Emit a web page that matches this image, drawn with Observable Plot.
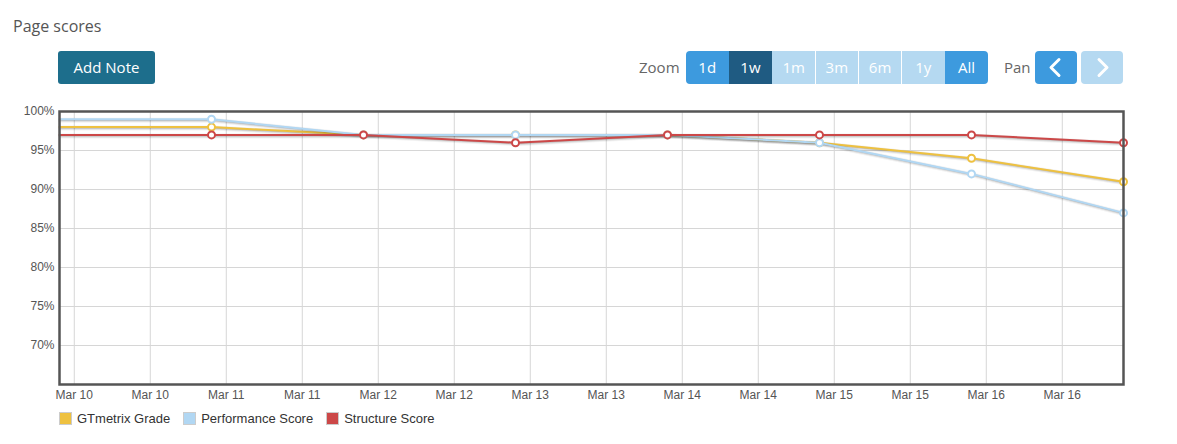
<!DOCTYPE html>
<html>
<head>
<meta charset="utf-8">
<script src="https://cdn.jsdelivr.net/npm/d3@7"></script>
<script src="https://cdn.jsdelivr.net/npm/@observablehq/plot@0.6"></script>
<style>
  html, body { margin: 0; padding: 0; background: #fff; }
  #wrap { position: relative; width: 1177px; height: 444px; overflow: hidden; font-family: "Open Sans", sans-serif; }
  #title { position: absolute; left: 13px; top: 15px; font-size: 16px; color: #555; }
  .btn { position: absolute; top: 51px; height: 33px; line-height: 33px; text-align: center; color: #fff; font-size: 15px; box-sizing: border-box; }
  .lbl { position: absolute; top: 51px; height: 33px; line-height: 33px; font-size: 15px; color: #666; }
  #chart { position: absolute; left: 0; top: 100px; }
  #legend { position: absolute; left: 59px; top: 411px; font-family: "Liberation Sans", Arial, sans-serif; font-size: 13px; color: #333; display: flex; }
  .li { display: flex; align-items: center; margin-right: 13px; }
  .sw { width: 11px; height: 11px; border: 1px solid #ccc; margin-right: 5px; box-sizing: content-box; }
</style>
</head>
<body>
<div id="wrap">
  <div id="title">Page scores</div>
  <div class="btn" style="left:58px;width:97px;background:#1d6e8c;border-radius:3px;">Add Note</div>
  <div class="lbl" style="left:639px;">Zoom</div>
  <div id="zoomBtns"></div>
  <div class="lbl" style="left:1004px;">Pan</div>
  <div id="panBtns"></div>
  <div id="chart"></div>
  <div id="legend"></div>
</div>
<script>
// ---- data ----
const dates = [
  "2016-03-09T21:40:00Z", "2016-03-10T21:40:00Z", "2016-03-11T21:40:00Z", "2016-03-12T21:40:00Z",
  "2016-03-13T21:40:00Z", "2016-03-14T21:40:00Z", "2016-03-15T21:40:00Z", "2016-03-16T21:40:00Z"
];
const gtmetrixGrade    = [98, 98, 97, 97, 97, 96, 94, 91];
const performanceScore = [99, 99, 97, 97, 97, 96, 92, 87];
const structureScore   = [97, 97, 97, 96, 97, 97, 97, 96];
const seriesNames  = ["GTmetrix Grade", "Performance Score", "Structure Score"];
const seriesColors = ["#eec140", "#b1d7f3", "#cc4848"];
const yTicks = [70, 75, 80, 85, 90, 95, 100];
const zoomLabels = ["1d", "1w", "1m", "3m", "6m", "1y", "All"];
const zoomColors = ["#3d9ade", "#1f5b82", "#b5d9f1", "#b5d9f1", "#b5d9f1", "#b5d9f1", "#3d9ade"];

// ---- buttons ----
const zb = document.getElementById("zoomBtns");
zoomLabels.forEach((t, i) => {
  const d = document.createElement("div");
  d.className = "btn";
  d.textContent = t;
  const left = 686 + i * 43.2;
  d.style.left = left + "px";
  d.style.width = "42.5px";
  d.style.background = zoomColors[i];
  if (i === 0) d.style.borderRadius = "4px 0 0 4px";
  if (i === zoomLabels.length - 1) d.style.borderRadius = "0 4px 4px 0";
  zb.appendChild(d);
});
const pb = document.getElementById("panBtns");
[["#3d9ade", "M24 9 L16 17 L24 25", 1035], ["#b5d9f1", "M18 9 L26 17 L18 25", 1081]].forEach(([c, p, l]) => {
  const d = document.createElement("div");
  d.className = "btn";
  d.style.left = l + "px";
  d.style.width = "42px";
  d.style.background = c;
  d.style.borderRadius = "4px";
  d.innerHTML = `<svg width="42" height="33" style="display:block"><path d="${p}" fill="none" stroke="#fff" stroke-width="3" stroke-linecap="round" stroke-linejoin="round" transform="translate(0,-0.5)"/></svg>`;
  pb.appendChild(d);
});

// ---- chart ----
const parse = d3.isoParse;
const times = dates.map(parse);
const seriesValues = [gtmetrixGrade, performanceScore, structureScore];
const rows = [];
seriesNames.forEach((name, s) => {
  seriesValues[s].forEach((v, i) => rows.push({series: name, date: times[i], value: v, idx: i}));
});
const domainX = [times[0], times[times.length - 1]];
const xTicks = d3.utcHour.every(12).range(d3.utcDay.ceil(domainX[0]), domainX[1]);

const lineMarks = [];
seriesNames.forEach((name, s) => {
  const data = rows.filter(r => r.series === name);
  [[5, 0.05], [3, 0.1], [1, 0.15]].forEach(([w, o]) => {
    lineMarks.push(Plot.line(data, {x: "date", y: "value", stroke: "#000", strokeOpacity: o, strokeWidth: w, dx: 1, dy: 1}));
  });
  lineMarks.push(Plot.line(data, {x: "date", y: "value", stroke: seriesColors[s], strokeWidth: 2}));
  lineMarks.push(Plot.dot(data.filter(r => r.idx > 0), {x: "date", y: "value", r: 3.5, fill: "#fff", stroke: seriesColors[s], strokeWidth: 2}));
});

const chart = Plot.plot({
  width: 1177,
  height: 310,
  marginLeft: 59,
  marginRight: 54,
  marginTop: 11,
  marginBottom: 26,
  x: {type: "utc", domain: domainX},
  y: {domain: [65, 100]},
  style: {fontFamily: "'Liberation Sans', Arial, sans-serif", fontSize: "12px", color: "#555", background: "transparent"},
  marks: [
    Plot.gridX(xTicks, {stroke: "#d6d6d6", strokeOpacity: 1}),
    Plot.gridY(yTicks.filter(v => v < 100), {stroke: "#d6d6d6", strokeOpacity: 1}),
    Plot.axisX(xTicks, {tickSize: 0, tickPadding: 6, tickFormat: d3.utcFormat("%b %d"), label: null, fill: "#555"}),
    Plot.axisY(yTicks, {tickSize: 0, tickPadding: 5, tickFormat: v => v + "%", label: null, fill: "#555"}),
    ...lineMarks,
    Plot.frame({stroke: "#555", strokeWidth: 2.5})
  ]
});
document.getElementById("chart").appendChild(chart);

// ---- legend ----
const lg = document.getElementById("legend");
seriesNames.forEach((name, s) => {
  const it = document.createElement("div");
  it.className = "li";
  it.innerHTML = `<div class="sw" style="background:${seriesColors[s]}"></div><span>${name}</span>`;
  lg.appendChild(it);
});
</script>
</body>
</html>
